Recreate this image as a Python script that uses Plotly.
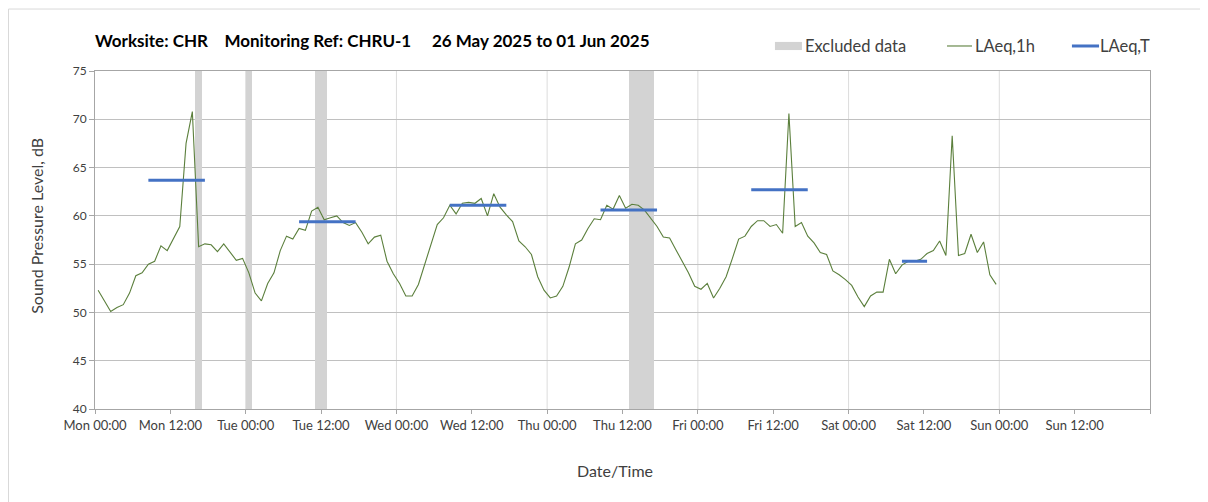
import pandas as pd
import plotly.graph_objects as go

# ---------------------------------------------------------------- data

# hourly LAeq,1h, 26 May 2025 00:00 -> 01 Jun 2025 23:00 (plotted mid-hour)
laeq_1h = [
    52.3, 51.2, 50.1, 50.5, 50.8, 52.0, 53.8, 54.1, 55.0, 55.3, 56.9, 56.4,
    57.7, 58.9, 67.5, 70.8, 56.8, 57.1, 57.0, 56.3, 57.1, 56.3, 55.4, 55.6,
    54.1, 52.0, 51.2, 53.0, 54.1, 56.4, 57.9, 57.6, 58.7, 58.5, 60.5, 60.9,
    59.6, 59.8, 60.0, 59.3, 59.0, 59.3, 58.3, 57.1, 57.8, 58.0, 55.3, 54.0,
    53.0, 51.7, 51.7, 52.9, 54.9, 57.0, 59.1, 59.8, 61.1, 60.2, 61.3, 61.4,
    61.3, 61.8, 60.0, 62.3, 60.9, 60.1, 59.4, 57.4, 56.8, 56.0, 53.7, 52.3,
    51.5, 51.7, 52.7, 54.7, 57.1, 57.5, 58.7, 59.7, 59.6, 61.1, 60.7, 62.1,
    60.8, 61.2, 61.1, 60.6, 59.8, 58.9, 57.8, 57.7, 56.5, 55.3, 54.1, 52.7,
    52.4, 53.0, 51.5, 52.5, 53.7, 55.6, 57.6, 57.9, 58.9, 59.5, 59.5, 58.9,
    59.1, 58.2, 70.6, 58.9, 59.3, 57.9, 57.2, 56.2, 56.0, 54.3, 53.9, 53.4,
    52.8, 51.6, 50.6, 51.7, 52.1, 52.1, 55.5, 54.0, 54.9, 55.3, 55.3, 55.5,
    56.1, 56.4, 57.4, 55.9, 68.3, 55.9, 56.1, 58.1, 56.2, 57.3, 53.9, 52.9,
]
times = pd.date_range("2025-05-26 00:30", periods=len(laeq_1h), freq="h")

# LAeq,T over each daytime period
period_start = ["2025-05-26 08:30", "2025-05-27 08:30", "2025-05-28 08:30",
                "2025-05-29 08:30", "2025-05-30 08:30", "2025-05-31 08:30"]
period_end = ["2025-05-26 17:30", "2025-05-27 17:30", "2025-05-28 17:30",
              "2025-05-29 17:30", "2025-05-30 17:30", "2025-05-31 12:30"]
laeq_t = [63.7, 59.4, 61.1, 60.6, 62.7, 55.3]

# excluded periods
excl_start = ["2025-05-26 16:00", "2025-05-27 00:00", "2025-05-27 11:00",
              "2025-05-29 13:00"]
excl_end = ["2025-05-26 17:00", "2025-05-27 01:00", "2025-05-27 13:00",
            "2025-05-29 17:00"]

tick_vals = pd.date_range("2025-05-26 00:00", periods=15, freq="12h")
tick_text = ["Mon 00:00", "Mon 12:00", "Tue 00:00", "Tue 12:00", "Wed 00:00",
             "Wed 12:00", "Thu 00:00", "Thu 12:00", "Fri 00:00", "Fri 12:00",
             "Sat 00:00", "Sat 12:00", "Sun 00:00", "Sun 12:00", ""]

# ---------------------------------------------------------------- figure

GREEN = "#5b7f3c"
BLUE = "#4472c4"
GREY = "#d3d3d3"
FONT = "Lato"
TXT = "#404040"

fig = go.Figure()

# excluded data as full-height bars
ex_s = pd.to_datetime(excl_start)
ex_e = pd.to_datetime(excl_end)
fig.add_trace(go.Bar(
    x=ex_s + (ex_e - ex_s) / 2,
    y=[35] * len(ex_s), base=40,
    width=[(e - s).total_seconds() * 1000 for s, e in zip(ex_s, ex_e)],
    marker=dict(color=GREY, line_width=0),
    name="Excluded data", showlegend=False,
))

fig.add_trace(go.Scatter(
    x=times, y=laeq_1h, mode="lines", name="LAeq,1h",
    line=dict(color=GREEN, width=1.1), showlegend=False,
))

# LAeq,T segments, separated by gaps
seg_x, seg_y = [], []
for s, e, v in zip(period_start, period_end, laeq_t):
    seg_x += [s, e, None]
    seg_y += [v, v, None]
fig.add_trace(go.Scatter(
    x=seg_x, y=seg_y, mode="lines", name="LAeq,T",
    line=dict(color=BLUE, width=3), showlegend=False,
))

# vertical grid at midnight only
for d in tick_vals[2:-1:2]:
    fig.add_shape(type="line", xref="x", yref="paper", x0=d, x1=d, y0=0, y1=1,
                  line=dict(color="#dcdcdc", width=1), layer="below")

# outer chart frame (page has an 8px body margin)
fig.add_shape(type="rect", xref="paper", yref="paper",
              x0=-0.0820, x1=1.07, y0=-0.32, y1=1.1833,
              line=dict(color="#d9d9d9", width=1), layer="below")

# hand-made legend
fig.add_shape(type="rect", xref="paper", yref="paper",
              x0=0.6445, x1=0.6701, y0=1.062, y1=1.086,
              fillcolor=GREY, line_width=0)
fig.add_shape(type="line", xref="paper", yref="paper",
              x0=0.8076, x1=0.8313, y0=1.074, y1=1.074,
              line=dict(color=GREEN, width=1.1))
fig.add_shape(type="line", xref="paper", yref="paper",
              x0=0.926, x1=0.9517, y0=1.074, y1=1.074,
              line=dict(color=BLUE, width=3))
for x, label in [(0.671, "Excluded data"), (0.832, "LAeq,1h"), (0.9506, "LAeq,T")]:
    fig.add_annotation(x=x, y=1.074, xref="paper", yref="paper", text=label,
                       showarrow=False, xanchor="left", yanchor="middle",
                       font=dict(family=FONT, size=16.5, color=TXT))

title = ("Worksite: CHR\u00a0\u00a0\u00a0 Monitoring Ref: CHRU-1"
         "\u00a0\u00a0\u00a0\u00a0 26 May 2025 to 01 Jun 2025")
fig.add_annotation(x=-0.002, y=1.0917, xref="paper", yref="paper", text=f"<b>{title}</b>",
                   showarrow=False, xanchor="left", yanchor="middle",
                   font=dict(family=FONT, size=17, color="#000000"))

fig.add_annotation(x=-0.055, y=0.542, xref="paper", yref="paper",
                   text="Sound Pressure Level, dB", textangle=-90,
                   showarrow=False, xanchor="center", yanchor="middle",
                   font=dict(family=FONT, size=16, color=TXT))
fig.add_annotation(x=0.4929, y=-0.182, xref="paper", yref="paper",
                   text="Date/Time", showarrow=False,
                   xanchor="center", yanchor="middle",
                   font=dict(family=FONT, size=16, color=TXT))

# sizes/margins allow for the 8px page margin round the plot div
fig.update_layout(
    width=1200, height=494,
    margin=dict(l=87, r=58, t=63, b=93),
    paper_bgcolor="white", plot_bgcolor="white",
    showlegend=False, bargap=0,
    font=dict(family=FONT, size=12, color=TXT),
)
fig.update_xaxes(
    range=[tick_vals[0], tick_vals[-1]],
    tickvals=tick_vals, ticktext=tick_text,
    showgrid=False, zeroline=False,
    showline=True, linecolor="#a6a6a6", linewidth=1, mirror=True,
    ticks="outside", ticklen=4, tickcolor="#a6a6a6",
    tickfont=dict(family=FONT, size=13, color=TXT),
)
fig.update_yaxes(
    range=[40, 75], dtick=5,
    showgrid=True, gridcolor="#c0c0c0", gridwidth=1, zeroline=False,
    showline=True, linecolor="#a6a6a6", linewidth=1, mirror=True,
    ticks="outside", ticklen=5, tickcolor="#a6a6a6",
    tickfont=dict(family=FONT, size=12, color=TXT),
)

fig.write_html("out.html")
